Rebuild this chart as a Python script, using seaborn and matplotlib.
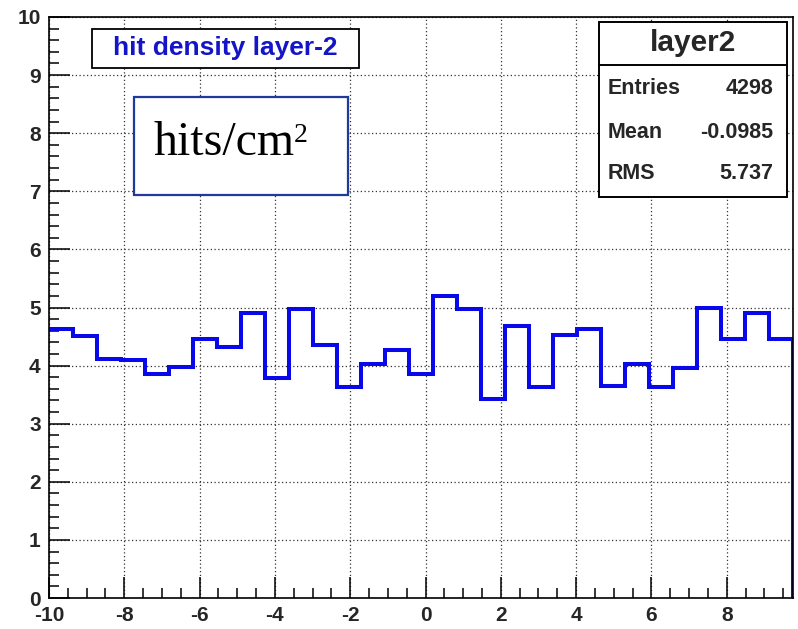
import numpy as np
import pandas as pd
import matplotlib
matplotlib.use("Agg")
import matplotlib.pyplot as plt
from matplotlib.patches import Rectangle
from matplotlib.lines import Line2D
from matplotlib.ticker import MultipleLocator
import seaborn as sns

# ---- data -------------------------------------------------------------
x_low, x_high, n_bins = -10.0, 9.76, 31
hit_density = [4.63, 4.51, 4.11, 4.09, 3.85, 3.97, 4.45, 4.32, 4.91, 3.79,
               4.98, 4.35, 3.64, 4.03, 4.26, 3.85, 5.20, 4.97, 3.43, 4.69,
               3.63, 4.53, 4.63, 3.65, 4.03, 3.64, 3.96, 5.00, 4.45, 4.90,
               4.45]
x_ticks = [-10, -8, -6, -4, -2, 0, 2, 4, 6, 8]
x_tick_labels = ["-10", "-8", "-6", "-4", "-2", "0", "2", "4", "6", "8"]
y_ticks = [0, 1, 2, 3, 4, 5, 6, 7, 8, 9, 10]
y_tick_labels = [str(v) for v in y_ticks]
hist_name = "layer2"
stats_names = ["Entries", "Mean", "RMS"]
stats_values = ["4298", "-0.0985", "5.737"]
title_text = "hit density layer-2"
unit_base, unit_power = "hits/cm", "2"

edges = np.linspace(x_low, x_high, n_bins + 1)
centers = 0.5 * (edges[:-1] + edges[1:])
df = pd.DataFrame({"x": centers, "w": hit_density})

# ---- style ------------------------------------------------------------
sns.set_style("ticks")
plt.rcParams["font.family"] = ["Liberation Sans", "DejaVu Sans"]

W, H = 798, 629
fig = plt.figure(figsize=(W / 100, H / 100), dpi=100, facecolor="white")


def fx(px):
    return px / W


def fy(py):
    return 1 - py / H


ax_l, ax_r, ax_t, ax_b = 49, 793, 17, 598
ax = fig.add_axes([fx(ax_l), fy(ax_b), fx(ax_r) - fx(ax_l), fy(ax_t) - fy(ax_b)])
ax.set_facecolor("white")

line_color = "#0808e8"
sns.histplot(data=df, x="x", weights="w", bins=n_bins,
             binrange=(x_low, x_high), element="step",
             fill=False, color=line_color, linewidth=2.9, ax=ax,
             solid_joinstyle="miter", zorder=3)
# closing edge of the last bin down to zero
ax.vlines(edges[-1], 0, hit_density[-1], color=line_color, linewidth=2.9,
          zorder=3)

ax.set_xlim(x_low, x_high)
ax.set_ylim(0, 10)
ax.set_xlabel("")
ax.set_ylabel("")

ax.set_xticks(x_ticks)
ax.set_xticklabels(x_tick_labels)
ax.set_yticks(y_ticks)
ax.set_yticklabels(y_tick_labels)
ax.xaxis.set_minor_locator(MultipleLocator(0.5))
ax.yaxis.set_minor_locator(MultipleLocator(0.2))
ax.tick_params(axis="both", which="major", direction="in", length=15,
               width=1.1, color="black", labelsize=15)
ax.tick_params(axis="both", which="minor", direction="in", length=7.5,
               width=1.1, color="black")
ax.tick_params(axis="x", which="major", pad=6)
ax.tick_params(axis="y", which="major", pad=6)
for lab in ax.get_xticklabels() + ax.get_yticklabels():
    lab.set_fontweight("bold")

ax.grid(True, which="major", color="#333333", linestyle=(0, (1, 2)),
        linewidth=0.9)
ax.set_axisbelow(True)
for side in ["left", "bottom", "top", "right"]:
    ax.spines[side].set_visible(True)
    ax.spines[side].set_color("black")
    ax.spines[side].set_linewidth(1.2)
    ax.spines[side].set_zorder(4)

# ---- title box --------------------------------------------------------
tb = (92, 29, 359, 68)
fig.patches.append(Rectangle((fx(tb[0]), fy(tb[3])), fx(tb[2]) - fx(tb[0]),
                             fy(tb[1]) - fy(tb[3]), transform=fig.transFigure,
                             facecolor="white", edgecolor="black",
                             linewidth=1.3, zorder=5))
fig.text(fx(225), fy(48), title_text, color="#1515c8", fontsize=19,
         fontweight="bold", ha="center", va="center", zorder=6)

# ---- unit box ---------------------------------------------------------
ub = (134, 97, 348, 195)
fig.patches.append(Rectangle((fx(ub[0]), fy(ub[3])), fx(ub[2]) - fx(ub[0]),
                             fy(ub[1]) - fy(ub[3]), transform=fig.transFigure,
                             facecolor="white", edgecolor="#1f3a9a",
                             linewidth=1.6, zorder=5))
fig.text(fx(153), fy(155), unit_base, color="black", fontsize=34.5,
         family="Liberation Serif", ha="left", va="baseline", zorder=6)
fig.text(fx(294), fy(142), unit_power, color="black", fontsize=20,
         family="Liberation Serif", ha="left", va="baseline", zorder=6)

# ---- statistics box ---------------------------------------------------
sb = (599, 22, 787, 197)
fig.patches.append(Rectangle((fx(sb[0]), fy(sb[3])), fx(sb[2]) - fx(sb[0]),
                             fy(sb[1]) - fy(sb[3]), transform=fig.transFigure,
                             facecolor="white", edgecolor="black",
                             linewidth=1.4, zorder=5))
fig.lines.append(Line2D([fx(sb[0]), fx(sb[2])], [fy(65), fy(65)],
                        transform=fig.transFigure, color="black",
                        linewidth=1.4, zorder=6))
fig.text(fx(693), fy(43), hist_name, fontsize=21.5, fontweight="bold",
         ha="center", va="center", zorder=6)
row_y = [88, 132, 174]
for name, val, yy in zip(stats_names, stats_values, row_y):
    fig.text(fx(608), fy(yy), name, fontsize=15.5, fontweight="bold",
             ha="left", va="center", zorder=6)
    fig.text(fx(773), fy(yy), val, fontsize=15.5, fontweight="bold",
             ha="right", va="center", zorder=6)

fig.savefig("out.png", dpi=100, facecolor="white")
